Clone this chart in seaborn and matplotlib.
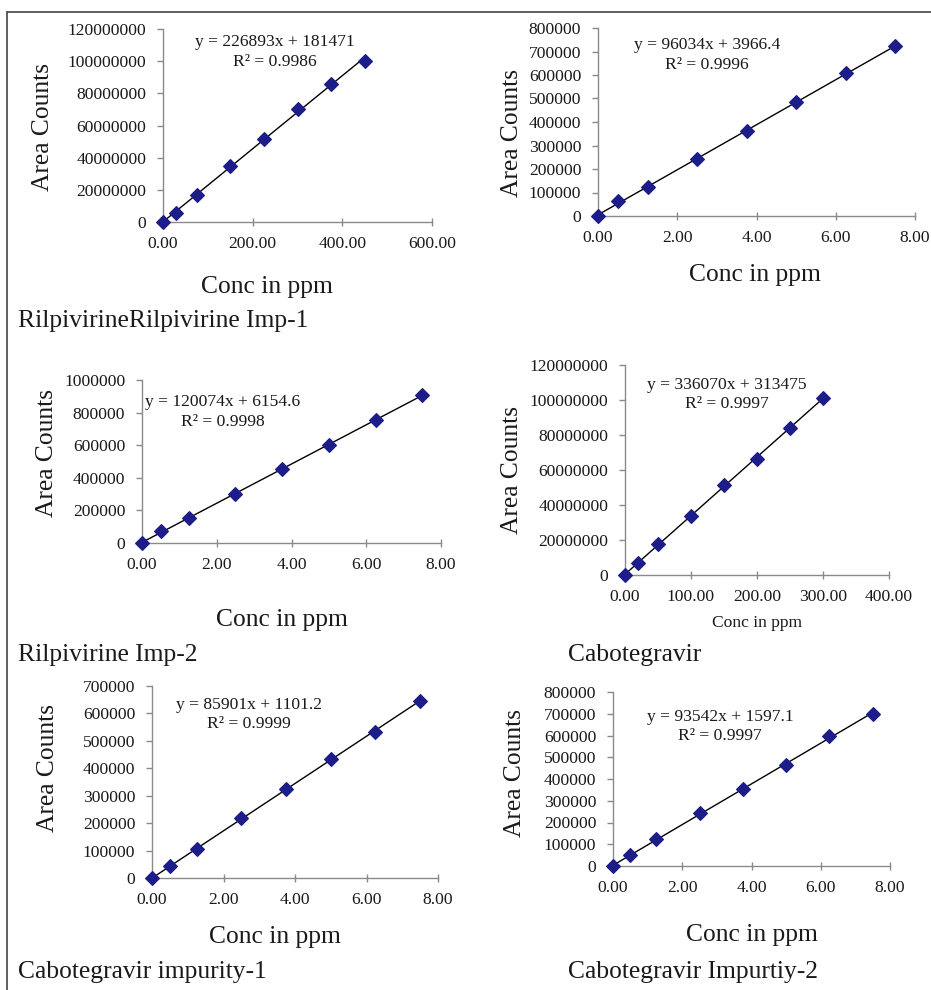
import matplotlib
matplotlib.use("Agg")
import matplotlib.pyplot as plt
from matplotlib.lines import Line2D
from matplotlib.ticker import FormatStrFormatter, MultipleLocator
import seaborn as sns

# calibration data
conc_rilp = [0, 30, 75, 150, 225, 300, 375, 450]
area_rilp = [0, 5.5e6, 17.0e6, 35.0e6, 51.5e6, 70.5e6, 86.0e6, 100.0e6]

conc_low = [0, 0.5, 1.25, 2.5, 3.75, 5.0, 6.25, 7.5]
area_rilp_imp1 = [0, 62000, 122000, 244000, 362000, 483000, 608000, 722000]
area_rilp_imp2 = [0, 71000, 153000, 302000, 455000, 602000, 755000, 908000]

conc_cabo = [0, 20, 50, 100, 150, 200, 250, 300]
area_cabo = [0, 6.7e6, 18.0e6, 34.0e6, 51.5e6, 66.2e6, 84.0e6, 101.3e6]

area_cabo_imp1 = [0, 43000, 104000, 217000, 324000, 434000, 534000, 647000]
area_cabo_imp2 = [0, 50000, 122000, 242000, 353000, 464000, 597000, 701000]

equations = [
    ("y = 226893x + 181471", "R² = 0.9986"),
    ("y = 96034x + 3966.4", "R² = 0.9996"),
    ("y = 120074x + 6154.6", "R² = 0.9998"),
    ("y = 336070x + 313475", "R² = 0.9997"),
    ("y = 85901x + 1101.2", "R² = 0.9999"),
    ("y = 93542x + 1597.1", "R² = 0.9997"),
]
captions = [
    "RilpivirineRilpivirine Imp-1",
    "",
    "Rilpivirine Imp-2",
    "Cabotegravir",
    "Cabotegravir impurity-1",
    "Cabotegravir Impurtiy-2",
]

W, H = 931, 990
sns.set_theme(style="white")
plt.rcParams["font.family"] = ["Liberation Serif", "DejaVu Serif"]

MARK = "#1d1d8a"
AXIS = "#8a8a8a"
TXT = "#1a1a1a"
TICK_FS = 12.6
BIG_FS = 18.4

# layout in pixels: axes box, axis limits/steps, text anchors
panels = [
    dict(x=conc_rilp, y=area_rilp, box=(163, 432, 29, 222), xmax=600, xstep=200, ymax=120e6, ystep=20e6,
         ylab=(43, 127), xlab=(267, 287, BIG_FS), eq=(275, 42, 62), cap=(18, 321)),
    dict(x=conc_low, y=area_rilp_imp1, box=(598, 915, 28, 216), xmax=8, xstep=2, ymax=800000, ystep=100000,
         ylab=(512, 133), xlab=(755, 275, BIG_FS), eq=(707, 45, 65), cap=None),
    dict(x=conc_low, y=area_rilp_imp2, box=(142, 441, 380, 543), xmax=8, xstep=2, ymax=1000000, ystep=200000,
         ylab=(47, 453), xlab=(282, 620, BIG_FS), eq=(223, 402, 422), cap=(18, 655)),
    dict(x=conc_cabo, y=area_cabo, box=(625, 889, 365, 575), xmax=400, xstep=100, ymax=120e6, ystep=20e6,
         ylab=(512, 470), xlab=(757, 623, TICK_FS), eq=(727, 385, 404), cap=(568, 655)),
    dict(x=conc_low, y=area_cabo_imp1, box=(152, 438, 686, 878), xmax=8, xstep=2, ymax=700000, ystep=100000,
         ylab=(48, 768), xlab=(275, 937, BIG_FS), eq=(249, 705, 724), cap=(18, 972)),
    dict(x=conc_low, y=area_cabo_imp2, box=(613, 890, 692, 866), xmax=8, xstep=2, ymax=800000, ystep=100000,
         ylab=(515, 773), xlab=(752, 935, BIG_FS), eq=(720, 717, 736), cap=(568, 972)),
]


def fx(px):
    return px / W


def fy(py):
    return 1 - py / H


fig = plt.figure(figsize=(W / 100, H / 100), dpi=100)

for p, (eq, r2), cap in zip(panels, equations, captions):
    x0, x1, yt, yb = p["box"]
    ax = fig.add_axes([fx(x0), fy(yb), (x1 - x0) / W, (yb - yt) / H])
    sns.regplot(x=p["x"], y=p["y"], ax=ax, ci=None, marker="D", color=MARK,
                scatter_kws={"s": 48, "clip_on": False, "zorder": 3, "alpha": 1},
                line_kws={"color": "black", "lw": 1.0, "zorder": 2})
    ax.set_xlim(0, p["xmax"])
    ax.set_ylim(0, p["ymax"])
    ax.xaxis.set_major_locator(MultipleLocator(p["xstep"]))
    ax.yaxis.set_major_locator(MultipleLocator(p["ystep"]))
    ax.xaxis.set_major_formatter(FormatStrFormatter("%.2f"))
    ax.yaxis.set_major_formatter(FormatStrFormatter("%d"))
    ax.set_xlabel("")
    ax.set_ylabel("")
    for side in ("top", "right"):
        ax.spines[side].set_visible(False)
    for side in ("left", "bottom"):
        ax.spines[side].set_color(AXIS)
        ax.spines[side].set_linewidth(1.0)
    ax.tick_params(axis="x", direction="inout", length=6, width=1, color=AXIS,
                   labelsize=TICK_FS, labelcolor=TXT, pad=7, bottom=True)
    ax.tick_params(axis="y", direction="out", length=4, width=1, color=AXIS,
                   labelsize=TICK_FS, labelcolor=TXT, pad=8, left=True)

    ex, ey1, ey2 = p["eq"]
    fig.text(fx(ex), fy(ey1), eq, ha="center", va="center", fontsize=TICK_FS, color=TXT)
    fig.text(fx(ex), fy(ey2), r2, ha="center", va="center", fontsize=TICK_FS, color=TXT)

    lx, ly = p["ylab"]
    fig.text(fx(lx), fy(ly), "Area Counts", rotation=90, ha="center", va="center",
             fontsize=BIG_FS, color=TXT)
    cx, cy, cfs = p["xlab"]
    fig.text(fx(cx), fy(cy), "Conc in ppm", ha="center", va="center", fontsize=cfs, color=TXT)
    if p["cap"] is not None:
        fig.text(fx(p["cap"][0]), fy(p["cap"][1]), cap, ha="left", va="center",
                 fontsize=BIG_FS, color=TXT)

# outer frame (only top and left edges are visible)
fig.add_artist(Line2D([fx(7), fx(7)], [0, fy(12)], color="#444444", lw=1.2))
fig.add_artist(Line2D([fx(7), 1], [fy(12), fy(12)], color="#444444", lw=1.2))

fig.savefig("out.png", dpi=100)
